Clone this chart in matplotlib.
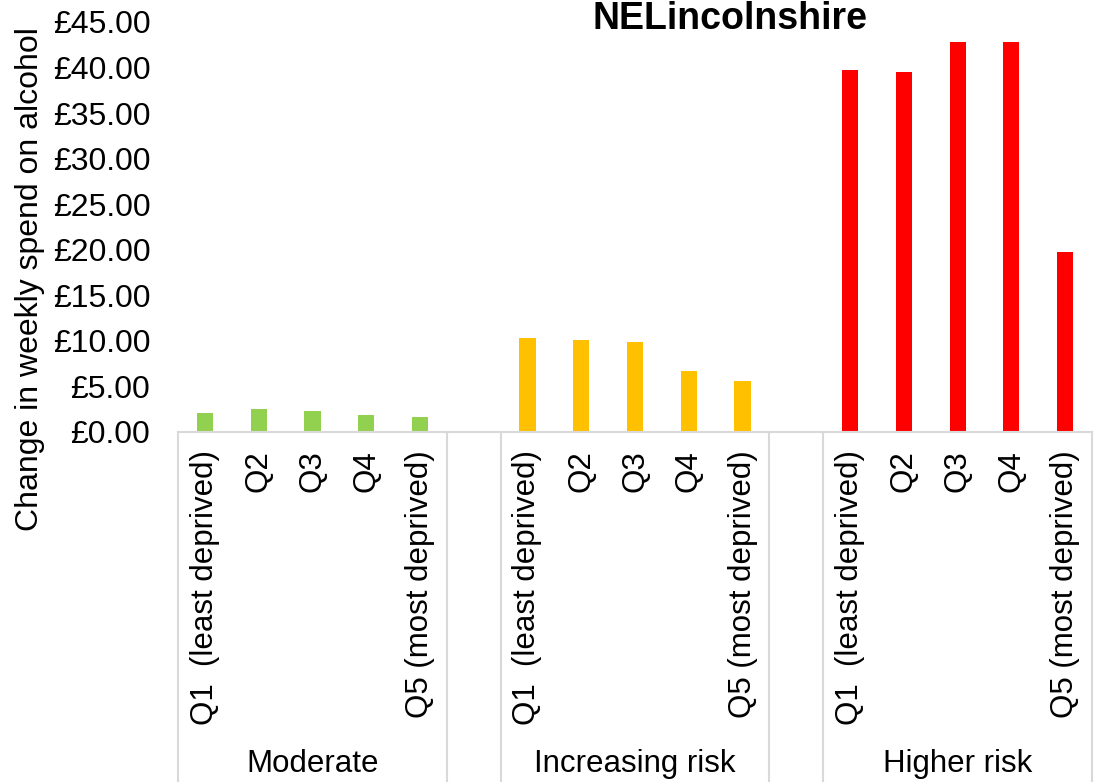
import numpy as np
import matplotlib
matplotlib.use('Agg')
from matplotlib import pyplot as plt

plt.rcParams['font.family'] = ['Liberation Sans', 'DejaVu Sans']

quintiles = ['Q1  (least deprived)', 'Q2', 'Q3', 'Q4', 'Q5 (most deprived)']
groups = ['Moderate', 'Increasing risk', 'Higher risk']
moderate = [2.05, 2.5, 2.28, 1.85, 1.62]
increasing_risk = [10.3, 10.1, 9.9, 6.7, 5.6]
higher_risk = [39.7, 39.5, 42.8, 42.8, 19.75]
colours = ['#92d050', '#ffc000', '#ff0000']

fig = plt.figure(figsize=(10.99, 7.82), dpi=100)
ax = fig.add_axes([0.162, 0.4476, 0.8316, 0.5243])

ticks = []
labels = []
for i, (vals, col) in enumerate(zip([moderate, increasing_risk, higher_risk], colours)):
    x = np.arange(5) + i * 6
    ax.bar(x, vals, width=0.3, color=col, zorder=2)
    ticks += list(x)
    labels += quintiles

ax.set_xlim(-0.5, 16.5)
ax.set_ylim(0, 45)
ax.set_yticks(np.arange(0, 46, 5))
ax.set_yticklabels([f'£{v:.2f}' for v in np.arange(0, 46, 5)])
ax.set_xticks(ticks)
ax.set_xticklabels(labels, rotation=90, va='top', ha='center')
ax.tick_params(axis='y', length=0, pad=20, labelsize=23)
ax.tick_params(axis='x', length=0, pad=13, labelsize=22.5)

for s in ['top', 'right', 'left']:
    ax.spines[s].set_visible(False)
ax.spines['bottom'].set_color('#d9d9d9')
ax.spines['bottom'].set_linewidth(1.5)
ax.spines['bottom'].set_zorder(3)

# group boxes under the axis
trans = ax.get_xaxis_transform()
for xs in [-0.5, 4.5, 5.5, 10.5, 11.5, 16.5]:
    ax.plot([xs, xs], [0, -0.86], color='#d9d9d9', lw=1.5, transform=trans, clip_on=False)

for i, g in enumerate(groups):
    ax.text(2 + i * 6, -0.81, g, transform=trans, ha='center', va='center', fontsize=22.5)

fig.text(730 / 1099, 1 - 19 / 782, 'NELincolnshire', ha='center', va='center',
         fontsize=27, fontweight='bold')
fig.text(30 / 1099, 1 - 279 / 782, 'Change in weekly spend on alcohol', rotation=90,
         ha='center', va='center', fontsize=23)

fig.savefig('out.png', dpi=100)
